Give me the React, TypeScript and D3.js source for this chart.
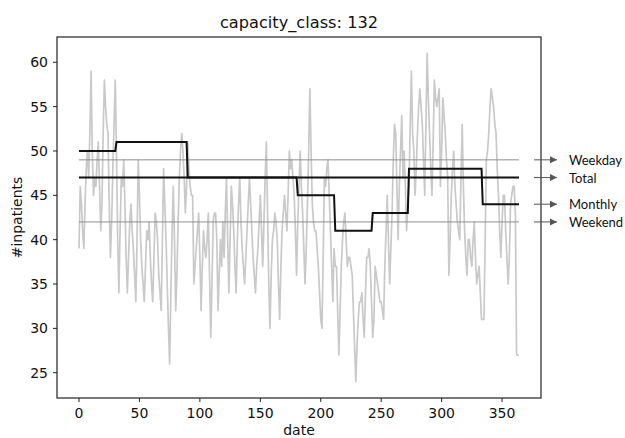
import React from "react";
import * as d3 from "d3";

const title = "capacity_class: 132";
const xLabel = "date";
const yLabel = "#inpatients";
const xTicks = [0, 50, 100, 150, 200, 250, 300, 350];
const yTicks = [25, 30, 35, 40, 45, 50, 55, 60];

// daily #inpatients, day 0..364
const patients = [
  39,46,44,41,39,44,48,50,47,52, 59,50,45,47,46,49,51,46,41,44, 52,58,55,53,52,44,38,42,48,53, 58,
  50,40,34,41,47,46,49,44,38,34, 38,42,44,41,39,36,33,40,49,45, 40,37,35,33,37,41,40,42,38,
  35,33,38,43,42,40,36,34,32,40, 48,44,40,35,30,26,34,41,46,40, 32,36,42,47,50,52,50,47,43,46,
  51,48,46,45,45,35,37,39,41,43, 38,32,37,41,39,38,40,43,36,29, 35,42,43,43,40,32,36,40,37,42,
  38,43,47,40,34,40,46,44,41,37, 34,40,44,47,42,39,37,35,38,41, 44,47,44,41,38,36,34,37,39,42, 45,
  41,37,42,47,51,43,35,30,36,40, 41,43,42,40,35,31,37,41,43,45, 43,41,45,50,48,49,47,45,41,36,
  42,46,50,46,43,39,35,39,44,50, 57,50,44,42,41,41,39,37,34,31, 30,38,47,46,48,49,45,41,37,33, 39,
  37,37,32,27,32,37,40,42,43,40, 37,38,38,37,36,32,28,24,28,31, 33,33,34,31,29,34,38,38,39,37, 33,
  29,31,37,36,35,34,33,33,32,31, 37,41,45,40,35,39,43,49,53,52, 46,40,46,50,54,47,50,46,41,44,
  46,53,59,52,50,45,48,52,55,57, 55,53,49,45,53,61,56,52,48,45, 51,58,56,55,56,57,46,50,56,54, 52,
  49,47,36,40,45,48,50,46,44,42, 41,40,47,53,46,41,38,36,40,40, 38,37,40,42,38,35,36,37,34,31,
  31,31,40,49,50,52,55,57,56,55, 53,52,48,45,41,38,42,45,45,41, 38,35,38,44,45,46,46,43,27,27, 27,
];

const monthLengths = [31, 28, 31, 30, 31, 30, 31, 31, 30, 31, 30, 31];
const monthlyMeans = [50, 51, 51, 47, 47, 47, 45, 41, 43, 48, 48, 44];

const levelNames = ["Weekday", "Total", "Weekend"];
const levelValues = [49, 47, 42];

const annotationNames = ["Weekday", "Total", "Monthly", "Weekend"];
const annotationValues = [49, 47, 44, 42];

export default function App() {
  const W = 625, H = 438;
  const left = 57, right = 541, top = 37, bottom = 398;
  const n = patients.length;
  const x = d3.scaleLinear().domain([-18.2, 382.2]).range([left, right]);
  const y = d3.scaleLinear().domain([22.15, 62.85]).range([bottom, top]);

  const line = d3.line<number>().x((_, i) => x(i)).y((d) => y(d));

  const monthly: number[] = [];
  monthLengths.forEach((len, m) => {
    for (let k = 0; k < len; k++) monthly.push(monthlyMeans[m]);
  });

  const font = "'DejaVu Sans', sans-serif";
  const annFont = "Lato, 'Open Sans', sans-serif";

  return (
    <svg width={W} height={H} style={{ position: "absolute", left: 0, top: 0, background: "#fff" }}>
      <defs>
        <marker id="arr" viewBox="0 0 10 10" refX="10" refY="5" markerWidth="8" markerHeight="7"
          markerUnits="userSpaceOnUse" orient="auto">
          <path d="M0,0 L10,5 L0,10 z" fill="#555" />
        </marker>
      </defs>
      <rect x={0} y={0} width={W} height={H} fill="#fff" />
      <text x={(left + right) / 2} y={28} textAnchor="middle" fontFamily={font} fontSize={16.2} fill="#111">
        {title}
      </text>

      <path d={line(patients) ?? ""} fill="none" stroke="#c9c9c9" strokeWidth={1.7} strokeLinejoin="round" />

      {levelValues.map((v, i) => (
        <line key={levelNames[i]} x1={x(0)} x2={x(n - 1)} y1={y(v)} y2={y(v)}
          stroke={levelNames[i] === "Total" ? "#111" : "#8f8f8f"}
          strokeWidth={levelNames[i] === "Total" ? 2 : 1} />
      ))}

      <path d={line(monthly) ?? ""} fill="none" stroke="#111" strokeWidth={2} />

      <rect x={left} y={top} width={right - left} height={bottom - top} fill="none" stroke="#222" strokeWidth={1.2} />

      {xTicks.map((t) => (
        <g key={t}>
          <line x1={x(t)} x2={x(t)} y1={bottom} y2={bottom + 4} stroke="#222" />
          <text x={x(t)} y={418} textAnchor="middle" fontFamily={font} fontSize={14} fill="#111">{t}</text>
        </g>
      ))}
      {yTicks.map((t) => (
        <g key={t}>
          <line x1={left - 4} x2={left} y1={y(t)} y2={y(t)} stroke="#222" />
          <text x={48} y={y(t) + 5} textAnchor="end" fontFamily={font} fontSize={14} fill="#111">{t}</text>
        </g>
      ))}
      <text x={(left + right) / 2} y={435} textAnchor="middle" fontFamily={font} fontSize={14} fill="#111">{xLabel}</text>
      <text transform={`translate(22,${(top + bottom) / 2}) rotate(-90)`} textAnchor="middle" fontFamily={font}
        fontSize={14} fill="#111">{yLabel}</text>

      {annotationValues.map((v, i) => (
        <g key={annotationNames[i]}>
          <line x1={534} x2={557} y1={y(v)} y2={y(v)} stroke="#555" strokeWidth={1} markerEnd="url(#arr)" />
          <text x={569} y={y(v) + 5} fontFamily={annFont} fontSize={13} fill="#111">{annotationNames[i]}</text>
        </g>
      ))}
    </svg>
  );
}
